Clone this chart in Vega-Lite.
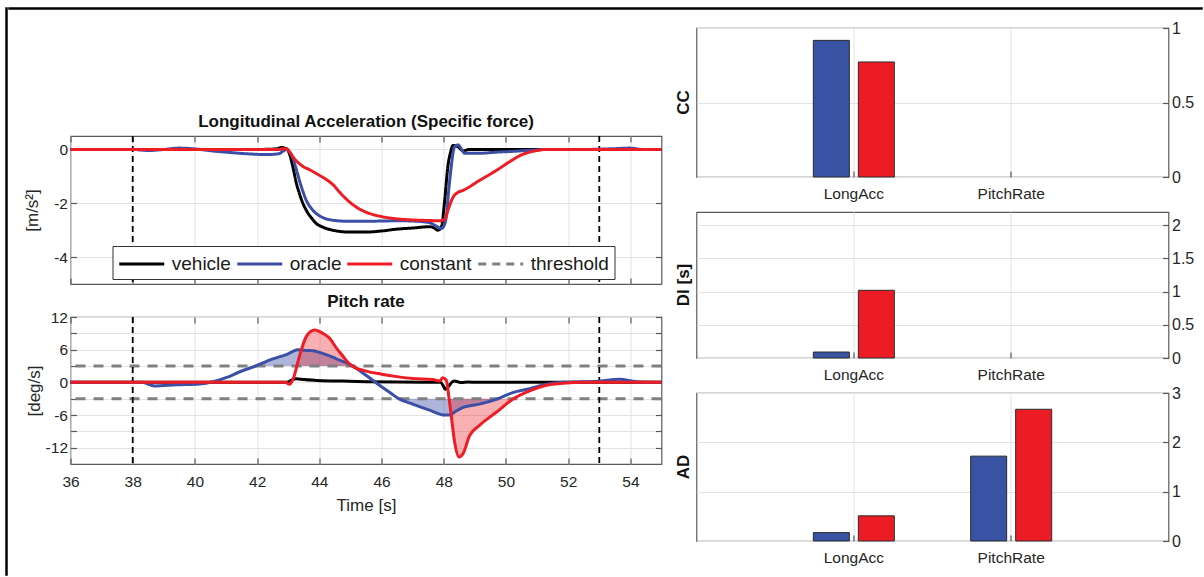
{
 "$schema": "https://vega.github.io/schema/vega-lite/v6.json",
 "padding": {"left": 5, "top": 7, "right": 0, "bottom": 0},
 "background": "white",
 "config": {
  "font": "Liberation Sans",
  "view": {"stroke": "#5a5a5a", "strokeWidth": 1.2},
  "axis": {"domain": false, "ticks": true, "tickColor": "#5a5a5a", "tickSize": -6, "tickWidth": 1.2, "labelPadding": 9, "labelFlush": false, "grid": true, "gridColor": "#e3e3e3", "gridWidth": 1, "labelColor": "#262626", "labelFontSize": 15.5, "titleColor": "#262626", "titleFontSize": 17, "titleFontWeight": "normal", "titlePadding": 2},
  "title": {"fontSize": 17, "fontWeight": "bold", "color": "#111111", "offset": 4}
 },
 "datasets": {
  "events": [{"t": 38}, {"t": 53}],
  "thr": [{"v": 3}, {"v": -3}],
  "acc": [
   {"s":"vehicle","t":36,"v":0},{"s":"vehicle","t":38,"v":0},{"s":"vehicle","t":40,"v":0},{"s":"vehicle","t":42,"v":0},{"s":"vehicle","t":42.6,"v":0.02},{"s":"vehicle","t":42.8,"v":0.07},{"s":"vehicle","t":42.95,"v":0.02},{"s":"vehicle","t":43.04,"v":-0.16},{"s":"vehicle","t":43.15,"v":-0.65},{"s":"vehicle","t":43.25,"v":-1.2},{"s":"vehicle","t":43.36,"v":-1.64},{"s":"vehicle","t":43.47,"v":-2.0},{"s":"vehicle","t":43.58,"v":-2.26},{"s":"vehicle","t":43.75,"v":-2.55},{"s":"vehicle","t":43.9,"v":-2.75},{"s":"vehicle","t":44.1,"v":-2.88},{"s":"vehicle","t":44.43,"v":-3.0},{"s":"vehicle","t":44.97,"v":-3.07},{"s":"vehicle","t":45.5,"v":-3.07},{"s":"vehicle","t":46.0,"v":-3.03},{"s":"vehicle","t":46.5,"v":-2.96},{"s":"vehicle","t":47.0,"v":-2.92},{"s":"vehicle","t":47.54,"v":-2.87},{"s":"vehicle","t":47.7,"v":-2.92},{"s":"vehicle","t":47.8,"v":-3.0},{"s":"vehicle","t":47.92,"v":-2.9},{"s":"vehicle","t":48.03,"v":-1.89},{"s":"vehicle","t":48.13,"v":-0.65},{"s":"vehicle","t":48.22,"v":-0.1},{"s":"vehicle","t":48.3,"v":0.15},{"s":"vehicle","t":48.46,"v":0.1},{"s":"vehicle","t":48.62,"v":-0.05},{"s":"vehicle","t":48.83,"v":0},{"s":"vehicle","t":55,"v":0},
   {"s":"oracle","t":36,"v":0},{"s":"oracle","t":38,"v":0},{"s":"oracle","t":38.5,"v":-0.04},{"s":"oracle","t":39,"v":0},{"s":"oracle","t":39.5,"v":0.05},{"s":"oracle","t":40,"v":0.02},{"s":"oracle","t":40.6,"v":-0.06},{"s":"oracle","t":41.2,"v":-0.12},{"s":"oracle","t":41.8,"v":-0.17},{"s":"oracle","t":42.3,"v":-0.19},{"s":"oracle","t":42.7,"v":-0.16},{"s":"oracle","t":42.85,"v":-0.05},{"s":"oracle","t":42.95,"v":0},{"s":"oracle","t":43.05,"v":-0.1},{"s":"oracle","t":43.15,"v":-0.32},{"s":"oracle","t":43.25,"v":-0.7},{"s":"oracle","t":43.36,"v":-1.15},{"s":"oracle","t":43.47,"v":-1.55},{"s":"oracle","t":43.58,"v":-1.89},{"s":"oracle","t":43.75,"v":-2.2},{"s":"oracle","t":43.9,"v":-2.38},{"s":"oracle","t":44.15,"v":-2.55},{"s":"oracle","t":44.43,"v":-2.63},{"s":"oracle","t":44.97,"v":-2.67},{"s":"oracle","t":45.5,"v":-2.67},{"s":"oracle","t":46.0,"v":-2.66},{"s":"oracle","t":46.58,"v":-2.65},{"s":"oracle","t":47.0,"v":-2.66},{"s":"oracle","t":47.54,"v":-2.72},{"s":"oracle","t":47.76,"v":-2.85},{"s":"oracle","t":47.92,"v":-2.94},{"s":"oracle","t":48.0,"v":-2.85},{"s":"oracle","t":48.08,"v":-2.5},{"s":"oracle","t":48.16,"v":-1.5},{"s":"oracle","t":48.24,"v":-0.65},{"s":"oracle","t":48.3,"v":-0.1},{"s":"oracle","t":48.35,"v":0.1},{"s":"oracle","t":48.46,"v":0.17},{"s":"oracle","t":48.55,"v":0.05},{"s":"oracle","t":48.67,"v":-0.14},{"s":"oracle","t":49.15,"v":-0.14},{"s":"oracle","t":49.7,"v":-0.1},{"s":"oracle","t":50.22,"v":-0.07},{"s":"oracle","t":50.8,"v":-0.03},{"s":"oracle","t":51.3,"v":0},{"s":"oracle","t":52.5,"v":0},{"s":"oracle","t":53.5,"v":0.03},{"s":"oracle","t":53.97,"v":0.05},{"s":"oracle","t":54.4,"v":0},{"s":"oracle","t":55,"v":0},
   {"s":"constant","t":36,"v":0},{"s":"constant","t":42.7,"v":0},{"s":"constant","t":42.85,"v":0.03},{"s":"constant","t":42.95,"v":0.02},{"s":"constant","t":43.05,"v":-0.1},{"s":"constant","t":43.2,"v":-0.35},{"s":"constant","t":43.36,"v":-0.53},{"s":"constant","t":43.5,"v":-0.65},{"s":"constant","t":43.68,"v":-0.75},{"s":"constant","t":44.0,"v":-0.96},{"s":"constant","t":44.2,"v":-1.1},{"s":"constant","t":44.43,"v":-1.3},{"s":"constant","t":44.7,"v":-1.65},{"s":"constant","t":44.97,"v":-1.95},{"s":"constant","t":45.2,"v":-2.15},{"s":"constant","t":45.5,"v":-2.33},{"s":"constant","t":45.94,"v":-2.48},{"s":"constant","t":46.5,"v":-2.58},{"s":"constant","t":47.0,"v":-2.62},{"s":"constant","t":47.5,"v":-2.64},{"s":"constant","t":47.87,"v":-2.65},{"s":"constant","t":48.03,"v":-2.6},{"s":"constant","t":48.15,"v":-2.2},{"s":"constant","t":48.3,"v":-1.77},{"s":"constant","t":48.45,"v":-1.6},{"s":"constant","t":48.62,"v":-1.52},{"s":"constant","t":49.15,"v":-1.15},{"s":"constant","t":49.69,"v":-0.78},{"s":"constant","t":50.22,"v":-0.38},{"s":"constant","t":50.5,"v":-0.2},{"s":"constant","t":50.76,"v":-0.1},{"s":"constant","t":51.0,"v":-0.04},{"s":"constant","t":51.3,"v":0},{"s":"constant","t":55,"v":0}
  ],
  "pitch": [
   {"s":"vehicle","t":36,"v":0},{"s":"vehicle","t":42.9,"v":0},{"s":"vehicle","t":43.05,"v":0.2},{"s":"vehicle","t":43.15,"v":0.55},{"s":"vehicle","t":43.26,"v":0.67},{"s":"vehicle","t":43.5,"v":0.5},{"s":"vehicle","t":43.9,"v":0.35},{"s":"vehicle","t":44.5,"v":0.25},{"s":"vehicle","t":44.97,"v":0.2},{"s":"vehicle","t":45.5,"v":0.12},{"s":"vehicle","t":46.5,"v":0.05},{"s":"vehicle","t":47.5,"v":0},{"s":"vehicle","t":47.9,"v":0},{"s":"vehicle","t":48.0,"v":-0.8},{"s":"vehicle","t":48.05,"v":-1.27},{"s":"vehicle","t":48.12,"v":-1.0},{"s":"vehicle","t":48.2,"v":-0.4},{"s":"vehicle","t":48.28,"v":0.1},{"s":"vehicle","t":48.35,"v":0.24},{"s":"vehicle","t":48.45,"v":0.1},{"s":"vehicle","t":48.56,"v":-0.05},{"s":"vehicle","t":48.8,"v":0.05},{"s":"vehicle","t":49.0,"v":0},{"s":"vehicle","t":55,"v":0},
   {"s":"oracle","t":36,"v":0},{"s":"oracle","t":38.3,"v":0},{"s":"oracle","t":38.7,"v":-0.67},{"s":"oracle","t":39.4,"v":-0.45},{"s":"oracle","t":40.15,"v":-0.3},{"s":"oracle","t":40.58,"v":0.1},{"s":"oracle","t":41.0,"v":0.85},{"s":"oracle","t":41.43,"v":1.9},{"s":"oracle","t":41.95,"v":3.0},{"s":"oracle","t":42.5,"v":4.3},{"s":"oracle","t":42.94,"v":5.1},{"s":"oracle","t":43.31,"v":6.0},{"s":"oracle","t":43.55,"v":5.85},{"s":"oracle","t":43.79,"v":5.8},{"s":"oracle","t":44.0,"v":5.5},{"s":"oracle","t":44.22,"v":5.1},{"s":"oracle","t":44.45,"v":4.6},{"s":"oracle","t":44.65,"v":4.06},{"s":"oracle","t":44.87,"v":3.6},{"s":"oracle","t":45.08,"v":2.97},{"s":"oracle","t":45.5,"v":1.3},{"s":"oracle","t":46.0,"v":-0.8},{"s":"oracle","t":46.3,"v":-2.0},{"s":"oracle","t":46.55,"v":-3.0},{"s":"oracle","t":47.0,"v":-4.0},{"s":"oracle","t":47.54,"v":-5.1},{"s":"oracle","t":48.03,"v":-6.0},{"s":"oracle","t":48.2,"v":-6.0},{"s":"oracle","t":48.35,"v":-5.45},{"s":"oracle","t":48.62,"v":-4.6},{"s":"oracle","t":49.15,"v":-4.0},{"s":"oracle","t":49.69,"v":-3.1},{"s":"oracle","t":50.22,"v":-1.88},{"s":"oracle","t":50.76,"v":-1.15},{"s":"oracle","t":51.3,"v":-0.36},{"s":"oracle","t":51.83,"v":0},{"s":"oracle","t":52.5,"v":0.1},{"s":"oracle","t":53.0,"v":0.2},{"s":"oracle","t":53.65,"v":0.55},{"s":"oracle","t":54.2,"v":0.1},{"s":"oracle","t":55,"v":0},
   {"s":"constant","t":36,"v":0},{"s":"constant","t":42.9,"v":0},{"s":"constant","t":43.04,"v":-0.36},{"s":"constant","t":43.15,"v":0.5},{"s":"constant","t":43.36,"v":4.8},{"s":"constant","t":43.58,"v":8.4},{"s":"constant","t":43.85,"v":9.6},{"s":"constant","t":44.11,"v":9.0},{"s":"constant","t":44.33,"v":8.1},{"s":"constant","t":44.55,"v":6.3},{"s":"constant","t":44.76,"v":4.8},{"s":"constant","t":44.9,"v":3.8},{"s":"constant","t":45.08,"v":2.9},{"s":"constant","t":45.5,"v":2.06},{"s":"constant","t":46.0,"v":1.5},{"s":"constant","t":46.5,"v":1.05},{"s":"constant","t":47.0,"v":0.7},{"s":"constant","t":47.65,"v":0.5},{"s":"constant","t":47.87,"v":0.25},{"s":"constant","t":47.97,"v":0.85},{"s":"constant","t":48.08,"v":0.4},{"s":"constant","t":48.16,"v":-2.5},{"s":"constant","t":48.24,"v":-6.1},{"s":"constant","t":48.35,"v":-11},{"s":"constant","t":48.49,"v":-13.7},{"s":"constant","t":48.62,"v":-13.1},{"s":"constant","t":48.83,"v":-9.8},{"s":"constant","t":49.15,"v":-7.9},{"s":"constant","t":49.69,"v":-5.5},{"s":"constant","t":50.22,"v":-3.1},{"s":"constant","t":50.76,"v":-1.58},{"s":"constant","t":51.3,"v":-0.55},{"s":"constant","t":51.83,"v":-0.18},{"s":"constant","t":52.5,"v":0},{"s":"constant","t":55,"v":0}
  ],
  "fill": [
   {"s":"oracle","side":"up","t":41.95,"v":3},{"s":"oracle","side":"up","t":42.5,"v":4.3},{"s":"oracle","side":"up","t":42.94,"v":5.1},{"s":"oracle","side":"up","t":43.31,"v":6.0},{"s":"oracle","side":"up","t":43.55,"v":5.85},{"s":"oracle","side":"up","t":43.79,"v":5.8},{"s":"oracle","side":"up","t":44.0,"v":5.5},{"s":"oracle","side":"up","t":44.22,"v":5.1},{"s":"oracle","side":"up","t":44.45,"v":4.6},{"s":"oracle","side":"up","t":44.65,"v":4.06},{"s":"oracle","side":"up","t":44.87,"v":3.6},{"s":"oracle","side":"up","t":45.08,"v":3},
   {"s":"oracle","side":"down","t":46.55,"v":-3},{"s":"oracle","side":"down","t":47.0,"v":-4.0},{"s":"oracle","side":"down","t":47.54,"v":-5.1},{"s":"oracle","side":"down","t":48.03,"v":-6.0},{"s":"oracle","side":"down","t":48.2,"v":-6.0},{"s":"oracle","side":"down","t":48.35,"v":-5.45},{"s":"oracle","side":"down","t":48.62,"v":-4.6},{"s":"oracle","side":"down","t":49.15,"v":-4.0},{"s":"oracle","side":"down","t":49.69,"v":-3.1},{"s":"oracle","side":"down","t":49.75,"v":-3},
   {"s":"constant","side":"up","t":43.27,"v":3},{"s":"constant","side":"up","t":43.36,"v":4.8},{"s":"constant","side":"up","t":43.58,"v":8.4},{"s":"constant","side":"up","t":43.85,"v":9.6},{"s":"constant","side":"up","t":44.11,"v":9.0},{"s":"constant","side":"up","t":44.33,"v":8.1},{"s":"constant","side":"up","t":44.55,"v":6.3},{"s":"constant","side":"up","t":44.76,"v":4.8},{"s":"constant","side":"up","t":44.9,"v":3.8},{"s":"constant","side":"up","t":45.06,"v":3},
   {"s":"constant","side":"down","t":48.17,"v":-3},{"s":"constant","side":"down","t":48.24,"v":-6.1},{"s":"constant","side":"down","t":48.35,"v":-11},{"s":"constant","side":"down","t":48.49,"v":-13.7},{"s":"constant","side":"down","t":48.62,"v":-13.1},{"s":"constant","side":"down","t":48.83,"v":-9.8},{"s":"constant","side":"down","t":49.15,"v":-7.9},{"s":"constant","side":"down","t":49.69,"v":-5.5},{"s":"constant","side":"down","t":50.22,"v":-3.1},{"s":"constant","side":"down","t":50.24,"v":-3}
  ],
  "bars": [
   {"metric":"CC","var":"LongAcc","method":"oracle","value":0.917},
   {"metric":"CC","var":"LongAcc","method":"constant","value":0.772},
   {"metric":"DI","var":"LongAcc","method":"oracle","value":0.09},
   {"metric":"DI","var":"LongAcc","method":"constant","value":1.02},
   {"metric":"AD","var":"LongAcc","method":"oracle","value":0.17},
   {"metric":"AD","var":"LongAcc","method":"constant","value":0.51},
   {"metric":"AD","var":"PitchRate","method":"oracle","value":1.72},
   {"metric":"AD","var":"PitchRate","method":"constant","value":2.67}
  ]
 },
 "spacing": 0,
 "resolve": {"scale": {"color": "independent", "strokeDash": "independent"}, "legend": {"color": "independent", "strokeDash": "independent"}},
 "hconcat": [
  {"width": 1, "height": 567, "data": {"values": []}, "mark": "point", "view": {"stroke": "#000000", "strokeWidth": 1.5, "fill": "#000000"}},
  {
   "spacing": 9,
   "resolve": {"scale": {"color": "independent", "strokeDash": "independent"}, "legend": {"color": "independent", "strokeDash": "independent"}},
   "vconcat": [
    {"width": 1193, "height": 1, "data": {"values": []}, "mark": "point", "view": {"stroke": "#000000", "strokeWidth": 1.5, "fill": "#000000"}},
    {
     "spacing": 12.5,
     "resolve": {"scale": {"color": "independent", "strokeDash": "independent"}, "legend": {"color": "independent", "strokeDash": "independent"}},
     "hconcat": [
      {"width": 1, "height": 1, "data": {"values": []}, "mark": "point", "view": {"stroke": null}},
      {
       "spacing": 5,
       "resolve": {"scale": {"color": "independent", "strokeDash": "independent"}, "legend": {"color": "independent", "strokeDash": "independent"}},
       "hconcat": [
        {
         "bounds": "flush", "spacing": 33,
         "resolve": {"scale": {"color": "independent", "strokeDash": "independent"}, "legend": {"color": "independent", "strokeDash": "independent"}},
         "vconcat": [
          {"width": 591, "height": 75, "data": {"values": []}, "mark": "point", "view": {"stroke": null}},
          {
           "width": 591, "height": 148,
           "title": {"text": "Longitudinal Acceleration (Specific force)"},
           "resolve": {"axis": {"x": "independent", "y": "independent"}},
           "layer": [
            {"data": {"name": "events"}, "mark": {"type": "rule", "color": "#000000", "strokeWidth": 1.8, "strokeDash": [6, 4]},
             "encoding": {"x": {"field": "t", "type": "quantitative", "scale": {"domain": [36, 55], "nice": false, "zero": false}, "axis": {"values": [36,38,40,42,44,46,48,50,52,54], "labels": false, "title": null}}}},
            {"data": {"name": "acc"}, "mark": {"type": "line", "strokeWidth": 3, "interpolate": "monotone"},
             "encoding": {
              "x": {"field": "t", "type": "quantitative", "scale": {"domain": [36, 55], "nice": false, "zero": false}, "axis": {"orient": "top", "values": [36,38,40,42,44,46,48,50,52,54], "labels": false, "grid": false, "title": null}},
              "y": {"field": "v", "type": "quantitative", "scale": {"domain": [-5, 0.5], "nice": false, "zero": false}, "axis": {"values": [-4, -2, 0], "labelExpr": "replace(datum.label, '−', '-')", "title": "[m/s²]", "titlePadding": 12}},
              "color": {"field": "s", "type": "nominal", "scale": {"domain": ["vehicle", "oracle", "constant", "threshold"], "range": ["#000000", "#3c4fa6", "#ee1c25", "#808080"]},
               "legend": {"title": null, "orient": "none", "legendX": 42, "legendY": 110, "direction": "horizontal", "fillColor": "white", "strokeColor": "#333333", "padding": 5, "labelFontSize": 19, "labelColor": "#1a1a1a", "symbolType": "M-2,0H2", "symbolStrokeWidth": 3, "symbolSize": 506, "symbolOffset": 11.25, "columnPadding": -1, "labelOffset": 17}},
              "strokeDash": {"field": "s", "type": "nominal", "scale": {"domain": ["vehicle", "oracle", "constant", "threshold"], "range": [[1, 0], [1, 0], [1, 0], [8, 6]]},
               "legend": {"title": null, "orient": "none", "legendX": 42, "legendY": 110, "direction": "horizontal", "fillColor": "white", "strokeColor": "#333333", "padding": 5, "labelFontSize": 19, "labelColor": "#1a1a1a", "symbolType": "M-2,0H2", "symbolStrokeWidth": 3, "symbolSize": 506, "symbolOffset": 11.25, "columnPadding": -1, "labelOffset": 17}}
             }},
            {"data": {"values": []}, "mark": "line",
             "encoding": {"y": {"field": "v", "type": "quantitative", "scale": {"domain": [-5, 0.5], "nice": false, "zero": false}, "axis": {"orient": "right", "values": [-4, -2, 0], "labels": false, "grid": false, "title": null}}}}
           ]
          },
          {
           "width": 591, "height": 147,
           "title": {"text": "Pitch rate", "offset": -1},
           "resolve": {"axis": {"x": "independent", "y": "independent"}},
           "layer": [
            {"data": {"name": "fill"}, "transform": [{"filter": "datum.s == 'oracle' && datum.side == 'up'"}],
             "mark": {"type": "area", "color": "#3c4fa6", "opacity": 0.42, "interpolate": "monotone"},
             "encoding": {
              "x": {"field": "t", "type": "quantitative", "scale": {"domain": [36, 55], "nice": false, "zero": false}, "axis": {"values": [36,38,40,42,44,46,48,50,52,54], "title": "Time [s]", "labelPadding": 16.5, "titlePadding": 7}},
              "y": {"field": "v", "type": "quantitative", "scale": {"domain": [-15, 12], "nice": false, "zero": false}, "axis": {"values": [-12,-9,-6,-3,0,3,6,9,12], "labelExpr": "datum.value % 6 === 0 ? replace(datum.label, '−', '-') : ''", "title": "[deg/s]"}},
              "y2": {"datum": 3}}},
            {"data": {"name": "fill"}, "transform": [{"filter": "datum.s == 'oracle' && datum.side == 'down'"}],
             "mark": {"type": "area", "color": "#3c4fa6", "opacity": 0.42, "interpolate": "monotone"},
             "encoding": {"x": {"field": "t", "type": "quantitative", "scale": {"domain": [36, 55], "nice": false, "zero": false}, "axis": null}, "y": {"field": "v", "type": "quantitative", "scale": {"domain": [-15, 12], "nice": false, "zero": false}, "axis": null}, "y2": {"datum": -3}}},
            {"data": {"name": "fill"}, "transform": [{"filter": "datum.s == 'constant' && datum.side == 'up'"}],
             "mark": {"type": "area", "color": "#ee1c25", "opacity": 0.35, "interpolate": "monotone"},
             "encoding": {"x": {"field": "t", "type": "quantitative", "scale": {"domain": [36, 55], "nice": false, "zero": false}, "axis": null}, "y": {"field": "v", "type": "quantitative", "scale": {"domain": [-15, 12], "nice": false, "zero": false}, "axis": null}, "y2": {"datum": 3}}},
            {"data": {"name": "fill"}, "transform": [{"filter": "datum.s == 'constant' && datum.side == 'down'"}],
             "mark": {"type": "area", "color": "#ee1c25", "opacity": 0.35, "interpolate": "monotone"},
             "encoding": {"x": {"field": "t", "type": "quantitative", "scale": {"domain": [36, 55], "nice": false, "zero": false}, "axis": null}, "y": {"field": "v", "type": "quantitative", "scale": {"domain": [-15, 12], "nice": false, "zero": false}, "axis": null}, "y2": {"datum": -3}}},
            {"data": {"name": "thr"}, "mark": {"type": "rule", "color": "#808080", "strokeWidth": 3, "strokeDash": [10, 8]},
             "encoding": {"y": {"field": "v", "type": "quantitative", "scale": {"domain": [-15, 12], "nice": false, "zero": false}, "axis": {"orient": "right", "values": [-12,-9,-6,-3,0,3,6,9,12], "labels": false, "grid": false, "title": null}}}},
            {"data": {"name": "events"}, "mark": {"type": "rule", "color": "#000000", "strokeWidth": 1.8, "strokeDash": [6, 4]},
             "encoding": {"x": {"field": "t", "type": "quantitative", "scale": {"domain": [36, 55], "nice": false, "zero": false}, "axis": {"orient": "top", "values": [36,38,40,42,44,46,48,50,52,54], "labels": false, "grid": false, "title": null}}}},
            {"data": {"name": "pitch"}, "transform": [{"filter": "datum.s == 'vehicle'"}], "mark": {"type": "line", "color": "#000000", "strokeWidth": 3, "interpolate": "monotone"},
             "encoding": {"x": {"field": "t", "type": "quantitative", "scale": {"domain": [36, 55], "nice": false, "zero": false}, "axis": null}, "y": {"field": "v", "type": "quantitative", "scale": {"domain": [-15, 12], "nice": false, "zero": false}, "axis": null}}},
            {"data": {"name": "pitch"}, "transform": [{"filter": "datum.s == 'oracle'"}], "mark": {"type": "line", "color": "#3c4fa6", "strokeWidth": 3, "interpolate": "monotone"},
             "encoding": {"x": {"field": "t", "type": "quantitative", "scale": {"domain": [36, 55], "nice": false, "zero": false}, "axis": null}, "y": {"field": "v", "type": "quantitative", "scale": {"domain": [-15, 12], "nice": false, "zero": false}, "axis": null}}},
            {"data": {"name": "pitch"}, "transform": [{"filter": "datum.s == 'constant'"}], "mark": {"type": "line", "color": "#ee1c25", "strokeWidth": 3, "interpolate": "monotone"},
             "encoding": {"x": {"field": "t", "type": "quantitative", "scale": {"domain": [36, 55], "nice": false, "zero": false}, "axis": null}, "y": {"field": "v", "type": "quantitative", "scale": {"domain": [-15, 12], "nice": false, "zero": false}, "axis": null}}}
           ]
          }
         ]
        },
        {
         "bounds": "flush", "spacing": 35,
         "vconcat": [
          {
           "width": 472, "height": 149,
           "title": {"text": "CC", "orient": "left", "offset": 4},
           "data": {"name": "bars"},
           "transform": [{"filter": "datum.metric == 'CC'"}],
           "encoding": {
            "x": {"field": "var", "type": "nominal", "scale": {"domain": ["LongAcc", "PitchRate"], "paddingInner": 0.428, "paddingOuter": 0.714}, "axis": {"title": null, "labelAngle": 0, "bandPosition": 0.5, "labelPadding": 15}},
            "xOffset": {"field": "method", "type": "nominal", "scale": {"domain": ["oracle", "constant"], "paddingInner": 0.2, "paddingOuter": 0.1}},
            "y": {"field": "value", "type": "quantitative", "scale": {"domain": [0, 1], "nice": false}, "axis": {"orient": "right", "values": [0, 0.5, 1], "labelExpr": "'' + datum.value", "title": null, "labelFontSize": 16}}
           },
           "layer": [
            {"transform": [{"filter": "datum.method == 'oracle'"}], "mark": {"type": "bar", "fill": "#3953a4", "stroke": "#2b2b2b", "strokeWidth": 1}},
            {"transform": [{"filter": "datum.method == 'constant'"}], "mark": {"type": "bar", "fill": "#ed1c24", "stroke": "#2b2b2b", "strokeWidth": 1}}
           ]
          },
          {
           "width": 472, "height": 146,
           "title": {"text": "DI [s]", "orient": "left", "offset": 4},
           "data": {"name": "bars"},
           "transform": [{"filter": "datum.metric == 'DI'"}],
           "encoding": {
            "x": {"field": "var", "type": "nominal", "scale": {"domain": ["LongAcc", "PitchRate"], "paddingInner": 0.428, "paddingOuter": 0.714}, "axis": {"title": null, "labelAngle": 0, "bandPosition": 0.5, "labelPadding": 15}},
            "xOffset": {"field": "method", "type": "nominal", "scale": {"domain": ["oracle", "constant"], "paddingInner": 0.2, "paddingOuter": 0.1}},
            "y": {"field": "value", "type": "quantitative", "scale": {"domain": [0, 2.2], "nice": false}, "axis": {"orient": "right", "values": [0, 0.5, 1, 1.5, 2], "labelExpr": "'' + datum.value", "title": null, "labelFontSize": 16}}
           },
           "layer": [
            {"transform": [{"filter": "datum.method == 'oracle'"}], "mark": {"type": "bar", "fill": "#3953a4", "stroke": "#2b2b2b", "strokeWidth": 1}},
            {"transform": [{"filter": "datum.method == 'constant'"}], "mark": {"type": "bar", "fill": "#ed1c24", "stroke": "#2b2b2b", "strokeWidth": 1}}
           ]
          },
          {
           "width": 472, "height": 148,
           "title": {"text": "AD", "orient": "left", "offset": 4},
           "data": {"name": "bars"},
           "transform": [{"filter": "datum.metric == 'AD'"}],
           "encoding": {
            "x": {"field": "var", "type": "nominal", "scale": {"domain": ["LongAcc", "PitchRate"], "paddingInner": 0.428, "paddingOuter": 0.714}, "axis": {"title": null, "labelAngle": 0, "bandPosition": 0.5, "labelPadding": 15}},
            "xOffset": {"field": "method", "type": "nominal", "scale": {"domain": ["oracle", "constant"], "paddingInner": 0.2, "paddingOuter": 0.1}},
            "y": {"field": "value", "type": "quantitative", "scale": {"domain": [0, 3], "nice": false}, "axis": {"orient": "right", "values": [0, 1, 2, 3], "labelExpr": "'' + datum.value", "title": null, "labelFontSize": 16}}
           },
           "layer": [
            {"transform": [{"filter": "datum.method == 'oracle'"}], "mark": {"type": "bar", "fill": "#3953a4", "stroke": "#2b2b2b", "strokeWidth": 1}},
            {"transform": [{"filter": "datum.method == 'constant'"}], "mark": {"type": "bar", "fill": "#ed1c24", "stroke": "#2b2b2b", "strokeWidth": 1}}
           ]
          }
         ]
        }
       ]
      }
     ]
    }
   ]
  }
 ]
}
